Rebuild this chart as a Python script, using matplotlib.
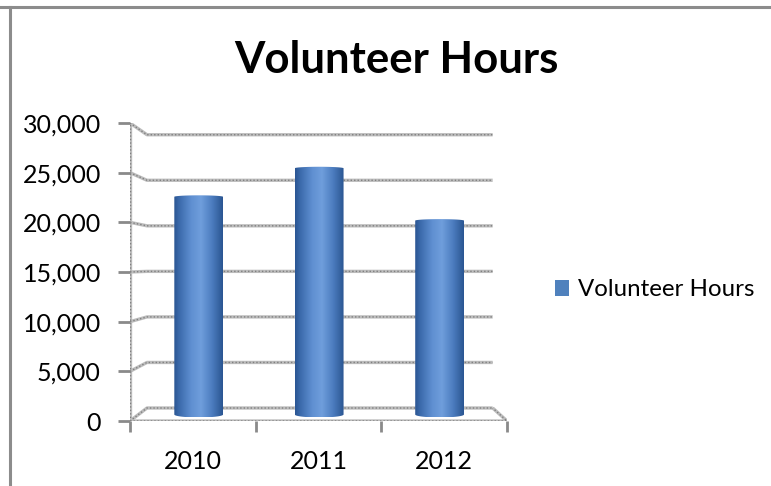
import numpy as np
import matplotlib
matplotlib.use('Agg')
import matplotlib.pyplot as plt
from matplotlib.patches import Polygon, Patch
from matplotlib.lines import Line2D
from matplotlib.colors import LinearSegmentedColormap

# ---------------- data ----------------
years = ['2010', '2011', '2012']
hours = [22600, 25600, 20100]
y_ticks = [0, 5000, 10000, 15000, 20000, 25000, 30000]
y_tick_labels = ['0', '5,000', '10,000', '15,000', '20,000', '25,000', '30,000']
series_name = 'Volunteer Hours'
chart_title = 'Volunteer Hours'

plt.rcParams['font.family'] = ['Lato', 'DejaVu Sans']

W, H = 771, 486
fig = plt.figure(figsize=(W / 100, H / 100), dpi=100)
fig.patch.set_facecolor('white')
ax = fig.add_axes([130 / W, (H - 421) / H, 377 / W, 298 / H])
n = len(years)
ymax = y_ticks[-1]

# pseudo-3D depth projection: back plane = scale * front + offset
BACK_SCALE = 0.917
BACK_DX, BACK_DY = 0.135, 1309


def proj(x, y, depth):
    s = 1 - (1 - BACK_SCALE) * depth
    return x * s + BACK_DX * depth, y * s + BACK_DY * depth


GRID_BASE = '#bdbdbd'
GRID_DOT = '#808080'


def textured_line(xs, ys, z=1):
    ax.plot(xs, ys, color=GRID_BASE, lw=2.4, solid_capstyle='butt', zorder=z)
    ax.plot(xs, ys, color=GRID_DOT, lw=1.0, ls=(0, (1, 1.5)), zorder=z + 0.1)


# walls / gridlines
for v in y_ticks:
    bx0, by = proj(0, v, 1)
    bx1, _ = proj(n, v, 1)
    textured_line([0, bx0, bx1], [v, by, by])

# floor
fx0, fy = proj(0, 0, 1)
fx1, _ = proj(n, 0, 1)
textured_line([0, n, fx1], [0, 0, fy])
# front vertical axis
textured_line([0, 0], [0, ymax])

# cylinders
cmap = LinearSegmentedColormap.from_list(
    'cyl', [(0.0, '#2a5592'), (0.1, '#3a69aa'), (0.35, '#5f8fd1'),
            (0.55, '#6f9edc'), (0.78, '#4c7cbf'), (0.93, '#35629f'), (1.0, '#2a5592')])
grad = np.linspace(0, 1, 256).reshape(1, -1)
bw = 0.405
px_per_unit = 298.0 / ymax
ell_top = 1.5 / px_per_unit
ell_bot = 3.0 / px_per_unit
for i, v in enumerate(hours):
    cx = i + 0.5
    xl, y0 = proj(cx - bw / 2, 0, 0.5)
    xr, _ = proj(cx + bw / 2, 0, 0.5)
    _, y1 = proj(cx, v, 0.5)
    xc = (xl + xr) / 2
    a = (xr - xl) / 2
    t1 = np.linspace(np.pi, 2 * np.pi, 40)
    t2 = np.linspace(0, np.pi, 40)
    px = np.concatenate([xc + a * np.cos(t1), xc + a * np.cos(t2)])
    py = np.concatenate([y0 + ell_bot * np.sin(t1), y1 + 2.5 / px_per_unit + ell_top * np.sin(t2)])
    poly = Polygon(np.column_stack([px, py]), closed=True, facecolor='none',
                   edgecolor='none', transform=ax.transData)
    ax.add_patch(poly)
    im = ax.imshow(grad, extent=[xl, xr, y0 - ell_bot, y1 + 5 / px_per_unit], aspect='auto',
                   cmap=cmap, zorder=3, interpolation='bilinear')
    im.set_clip_path(poly)

ax.set_xlim(0, n)
ax.set_ylim(0, ymax)
for s in ax.spines.values():
    s.set_visible(False)
ax.set_facecolor('none')

ax.set_yticks(y_ticks)
ax.set_yticklabels(y_tick_labels)
ax.tick_params(axis='y', length=9, width=2, color='#8a8a8a', pad=12,
               labelsize=18, labelcolor='black')
ax.set_xticks(np.arange(n + 1))
ax.set_xticklabels([])
ax.set_xticks(np.arange(n) + 0.5, minor=True)
ax.set_xticklabels(years, minor=True)
ax.tick_params(axis='x', which='major', length=8, width=2, color='#8a8a8a')
ax.tick_params(axis='x', which='minor', length=0, pad=21, labelsize=18,
               labelcolor='black')

# title
fig.text(396 / W, 1 - 73 / H, chart_title, ha='center', va='baseline',
         fontsize=31.5, fontweight='bold', color='black')

# legend
fig.legend(handles=[Patch(facecolor='#4f81bd', edgecolor='none')],
           labels=[series_name], loc='center left',
           bbox_to_anchor=(555 / W, 1 - 290 / H), frameon=False,
           fontsize=17.3, handlelength=0.6, handleheight=0.6,
           handletextpad=0.35, borderpad=0, borderaxespad=0)

# chart border (top & left visible)
fig.add_artist(Line2D([0, 1], [1 - 7.5 / H, 1 - 7.5 / H], transform=fig.transFigure,
                      color='#8c8c8c', lw=2.2))
fig.add_artist(Line2D([9.5 / W, 9.5 / W], [0, 1 - 7.5 / H], transform=fig.transFigure,
                      color='#8c8c8c', lw=2.2))

fig.savefig('out.png', dpi=100, facecolor='white')
